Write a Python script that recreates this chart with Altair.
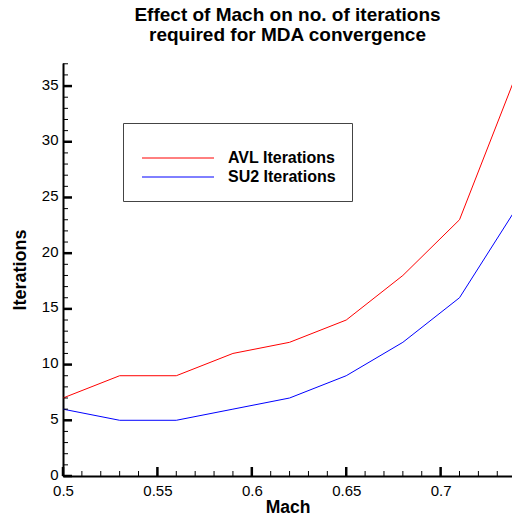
import altair as alt
import pandas as pd

mach = [0.50, 0.53, 0.56, 0.59, 0.62, 0.65, 0.68, 0.71, 0.74]
avl_iterations = [7, 9, 9, 11, 12, 14, 18, 23, 36]
su2_iterations = [6, 5, 5, 6, 7, 9, 12, 16, 24]
series_names = ["AVL Iterations", "SU2 Iterations"]
series_colors = ["#ff0000", "#0000ff"]

x_major = [0.5, 0.55, 0.6, 0.65, 0.7]
x_minor = [0.51, 0.52, 0.53, 0.54, 0.56, 0.57, 0.58, 0.59, 0.61, 0.62, 0.63,
           0.64, 0.66, 0.67, 0.68, 0.69, 0.71, 0.72, 0.73]
y_major = [0, 5, 10, 15, 20, 25, 30, 35]
y_minor = [1, 2, 3, 4, 6, 7, 8, 9, 11, 12, 13, 14, 16, 17, 18, 19, 21, 22, 23,
           24, 26, 27, 28, 29, 31, 32, 33, 34, 36, 37]

FONT = "Liberation Sans"
W, H = 449, 413

rows = []
for m, a in zip(mach, avl_iterations):
    rows.append({"Mach": m, "Iterations": a, "Series": series_names[0]})
for m, s in zip(mach, su2_iterations):
    rows.append({"Mach": m, "Iterations": s, "Series": series_names[1]})
df = pd.DataFrame(rows)

xscale = alt.Scale(domain=[0.5, 0.7378], nice=False, zero=False)
yscale = alt.Scale(domain=[0, 37.07], nice=False, zero=False)

lines = alt.Chart(df).mark_line(clip=True, strokeWidth=1).encode(
    x=alt.X("Mach:Q", scale=xscale,
            axis=alt.Axis(values=x_major, title="Mach", ticks=False,
                          labelFlush=False, labelPadding=7,
                          format="~g", grid=False, titlePadding=0,
                          titleFontSize=17.5)),
    y=alt.Y("Iterations:Q", scale=yscale,
            axis=alt.Axis(values=y_major, title="Iterations", ticks=False,
                          labelPadding=5, labelOffset=-2, grid=False,
                          titlePadding=12)),
    color=alt.Color("Series:N",
                    scale=alt.Scale(domain=series_names, range=series_colors),
                    legend=alt.Legend(orient="none", legendX=60, legendY=60,
                                      title=" ", titleFontSize=8, titlePadding=3,
                                      symbolType="M-9,0H9",
                                      symbolSize=64, symbolStrokeWidth=1,
                                      symbolOffset=31,
                                      labelFont=FONT, labelFontWeight="bold",
                                      labelFontSize=16, labelOffset=42,
                                      labelColor="black",
                                      padding=16, fillColor="white",
                                      strokeColor="#444", rowPadding=3)),
)

ymaj = alt.Chart(pd.DataFrame({"Iterations": y_major})).mark_rule(
    color="black", strokeWidth=2.5).encode(
    y=alt.Y("Iterations:Q", scale=yscale), x=alt.value(0), x2=alt.value(9))
ymin = alt.Chart(pd.DataFrame({"Iterations": y_minor})).mark_rule(
    color="black", strokeWidth=1).encode(
    y=alt.Y("Iterations:Q", scale=yscale), x=alt.value(0), x2=alt.value(5))
xmaj = alt.Chart(pd.DataFrame({"Mach": x_major})).mark_rule(
    color="black", strokeWidth=2.5).encode(
    x=alt.X("Mach:Q", scale=xscale), y=alt.value(H), y2=alt.value(H - 9))
xmin = alt.Chart(pd.DataFrame({"Mach": x_minor})).mark_rule(
    color="black", strokeWidth=1).encode(
    x=alt.X("Mach:Q", scale=xscale), y=alt.value(H), y2=alt.value(H - 5))

chart = alt.layer(lines, ymaj, ymin, xmaj, xmin).properties(
    width=W, height=H,
    background="white",
    autosize=alt.AutoSizeParams(type="none"),
    padding={"left": 63, "top": 63, "right": 0, "bottom": 39},
    title=alt.TitleParams(
        ["Effect of Mach on no. of iterations", "required for MDA convergence"],
        font=FONT, fontSize=19, fontWeight="bold", anchor="middle",
        lineHeight=20, offset=18, color="black"),
).configure_view(strokeWidth=0).configure_axis(
    domainColor="black", domainWidth=2, labelFont=FONT, labelFontSize=15,
    labelColor="black", titleFont=FONT, titleFontSize=18, titleFontWeight="bold",
    titleColor="black",
)

chart.save("out.html", embed_options={"renderer": "svg", "actions": False})
